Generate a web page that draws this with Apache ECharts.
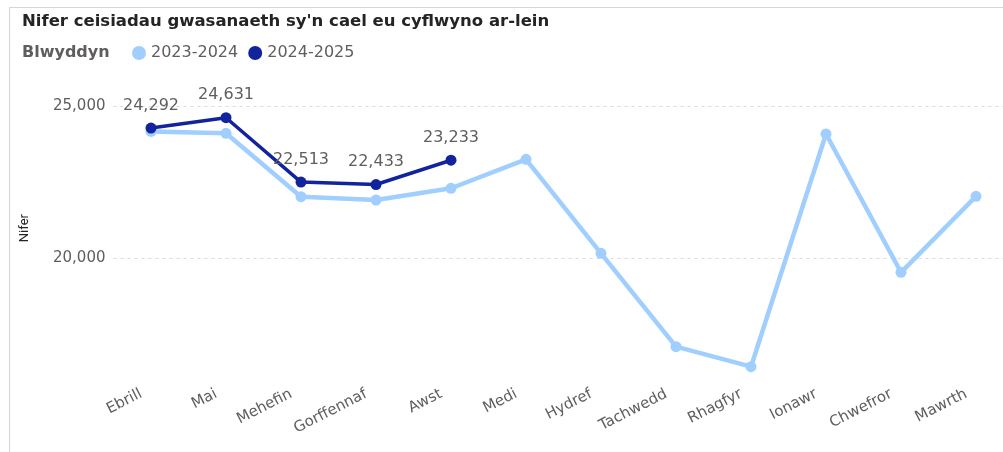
<!DOCTYPE html>
<html>
<head>
<meta charset="utf-8">
<script src="https://cdn.jsdelivr.net/npm/echarts@6/dist/echarts.min.js"></script>
<style>
html,body{margin:0;padding:0;background:#fff;}
#chart{width:1003px;height:452px;}
</style>
</head>
<body>
<div id="chart"></div>
<script>
const categories = ['Ebrill','Mai','Mehefin','Gorffennaf','Awst','Medi','Hydref','Tachwedd','Rhagfyr','Ionawr','Chwefror','Mawrth'];
const series2023 = [24180, 24118, 22033, 21924, 22310, 23263, 20171, 17099, 16441, 24095, 19546, 22044];
const series2024 = [24292, 24631, 22513, 22433, 23233];
const seriesNames = ['2023-2024', '2024-2025'];
const titleText = "Nifer ceisiadau gwasanaeth sy'n cael eu cyflwyno ar-lein";
const legendTitle = 'Blwyddyn';
const yAxisName = 'Nifer';

const font = '"DejaVu Sans", "Open Sans", sans-serif';
const chart = echarts.init(document.getElementById('chart'), null, {renderer: 'canvas'});
const fmt = v => v.toLocaleString('en-US');

chart.setOption({
  animation: false,
  backgroundColor: '#fff',
  textStyle: {fontFamily: font},
  graphic: [{
    type: 'rect', silent: true,
    shape: {x: 9.5, y: 7.5, width: 1100, height: 600},
    style: {fill: 'none', stroke: '#d6d6d6', lineWidth: 1}
  }],
  title: [{
    text: titleText, left: 17, top: 8,
    textStyle: {fontFamily: font, fontSize: 16.5, fontWeight: 'bold', color: '#252423'}
  }, {
    text: legendTitle, left: 17, top: 40,
    textStyle: {fontFamily: font, fontSize: 16, fontWeight: 'bold', color: '#605E5C'}
  }],
  legend: {
    left: 127, top: 40,
    icon: 'circle', itemWidth: 14, itemHeight: 14, itemGap: 10,
    textStyle: {fontFamily: font, fontSize: 16, color: '#605E5C'},
    data: seriesNames
  },
  grid: {left: 113.5, width: 900, top: 76.1, bottom: 71.9, outerBoundsMode: 'none', containLabel: false},
  xAxis: {
    type: 'category', data: categories, boundaryGap: true,
    axisLine: {show: false}, axisTick: {show: false},
    axisLabel: {rotate: 27, margin: 8, padding: [0, 11, 0, 0], fontFamily: font, fontSize: 15, color: '#605E5C', interval: 0}
  },
  yAxis: {
    type: 'value', min: 16000, max: 26000, interval: 1000,
    name: yAxisName, nameLocation: 'middle', nameGap: 82, nameRotate: 90,
    nameTextStyle: {fontFamily: '"Liberation Sans Narrow", "Roboto", sans-serif', fontSize: 13, color: '#252423'},
    axisLine: {show: false}, axisTick: {show: false},
    axisLabel: {
      margin: 8, fontFamily: font, fontSize: 15, color: '#605E5C',
      formatter: v => (v % 5000 === 0 ? fmt(v) : '')
    },
    splitLine: {
      show: true,
      lineStyle: {type: [3, 4], width: 1, color: ['rgba(0,0,0,0)','rgba(0,0,0,0)','rgba(0,0,0,0)','rgba(0,0,0,0)','#d9d9d9']}
    }
  },
  series: [{
    name: seriesNames[0], type: 'line', data: series2023,
    color: '#A0CFFF',
    symbol: 'circle', symbolSize: 11,
    lineStyle: {width: 4.5, color: '#A0CFFF'},
    itemStyle: {color: '#A0CFFF'},
    z: 2
  }, {
    name: seriesNames[1], type: 'line', data: series2024,
    color: '#12239E',
    symbol: 'circle', symbolSize: 11,
    lineStyle: {width: 3.5, color: '#12239E'},
    itemStyle: {color: '#12239E'},
    label: {
      show: true, position: 'top', distance: 9,
      fontFamily: font, fontSize: 16, color: '#605E5C',
      formatter: p => fmt(p.value)
    },
    z: 3
  }]
});
</script>
</body>
</html>
